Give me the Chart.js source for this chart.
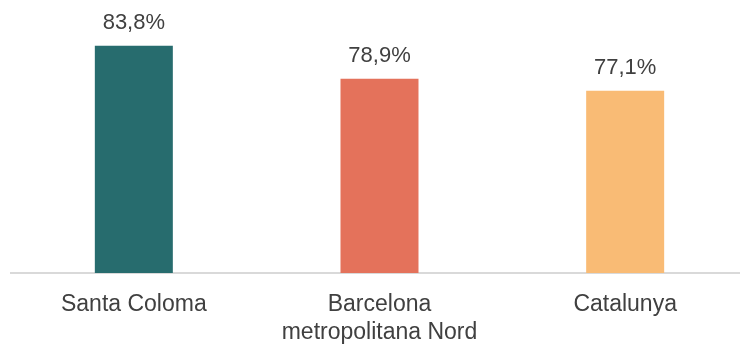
<!DOCTYPE html>
<html>
<head>
<meta charset="utf-8">
<script src="https://cdn.jsdelivr.net/npm/chart.js@4.4.1/dist/chart.umd.min.js"></script>
<style>
  html, body { margin: 0; padding: 0; background: #fff; overflow: hidden; }
  #wrap { width: 748px; height: 344px; }
</style>
</head>
<body>
<div id="wrap"><canvas id="chart" width="748" height="344"></canvas></div>
<script>
const categories = [['Santa Coloma'], ['Barcelona', 'metropolitana Nord'], ['Catalunya']]
const values = [83.8, 78.9, 77.1]
const barColors = ['#276c6e', '#e4725b', '#f9bb75']

const textColor = '#404040'
const fontFamily = "'Liberation Sans', Arial, sans-serif"

// value labels above each bar, spanish style decimal comma
const valueLabels = {
  id: 'valueLabels',
  afterDatasetsDraw(chart) {
    const ctx = chart.ctx
    const meta = chart.getDatasetMeta(0)
    ctx.save()
    ctx.font = `22px ${fontFamily}`
    ctx.fillStyle = textColor
    ctx.textAlign = 'center'
    ctx.textBaseline = 'alphabetic'
    meta.data.forEach((bar, i) => {
      const txt = values[i].toFixed(1).replace('.', ',') + '%'
      ctx.fillText(txt, bar.x, bar.y - 17)
    })
    ctx.restore()
  }
}

const config = {
  type: 'bar',
  data: {
    labels: categories,
    datasets: [{
      data: values,
      backgroundColor: barColors,
      borderWidth: 0,
      barPercentage: 0.3175,
      categoryPercentage: 1
    }]
  },
  options: {
    responsive: false,
    animation: false,
    layout: { padding: { left: 11, top: 4, right: 0, bottom: 0 } },
    plugins: { legend: { display: false }, tooltip: { enabled: false } },
    scales: {
      x: {
        grid: { display: false, drawTicks: false },
        border: { display: true, color: '#d9d9d9', width: 2 },
        ticks: {
          color: textColor,
          padding: 18,
          maxRotation: 0,
          autoSkip: false,
          font: { family: fontFamily, size: 23, lineHeight: 1.22 }
        },
        afterFit(scale) { scale.height = 71 }
      },
      y: { display: false, min: 50, max: 90 }
    }
  },
  plugins: [valueLabels]
}

new Chart(document.getElementById('chart'), config)
</script>
</body>
</html>
